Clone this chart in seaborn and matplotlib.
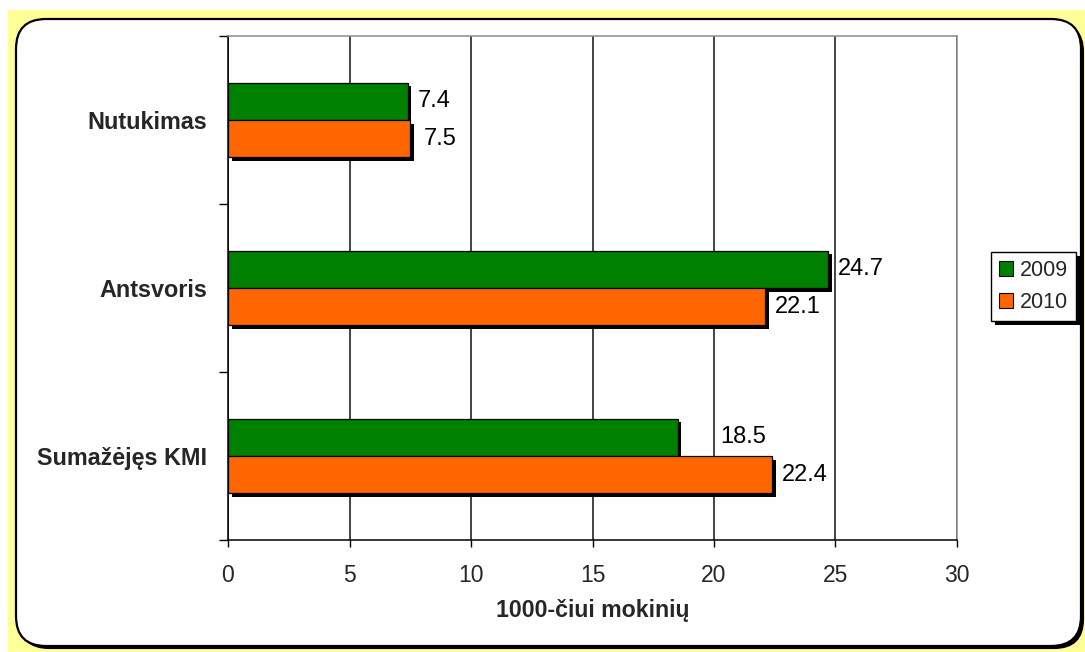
import matplotlib
matplotlib.use("Agg")
import matplotlib.pyplot as plt
import matplotlib.patheffects as pe
import numpy as np
import pandas as pd
import seaborn as sns
from matplotlib.patches import FancyBboxPatch, Rectangle, Patch
from matplotlib.transforms import IdentityTransform

# ---- data ----
categories = ["Nutukimas", "Antsvoris", "Sumažėjęs KMI"]
years = ["2009", "2010"]
values_2009 = [7.4, 24.7, 18.5]
values_2010 = [7.5, 22.1, 22.4]
x_ticks = [0, 5, 10, 15, 20, 25, 30]
x_label = "1000-čiui mokinių"

colors = ["#008000", "#FF6600"]

df = pd.DataFrame({
    "category": categories * 2,
    "year": [years[0]] * len(categories) + [years[1]] * len(categories),
    "value": values_2009 + values_2010,
})

sns.set_theme(style="white")
plt.rcParams["font.family"] = ["Liberation Sans", "DejaVu Sans"]

W, H = 1085, 652
fig = plt.figure(figsize=(W / 100, H / 100), dpi=100)
fig.patch.set_facecolor("white")

# page background and rounded frame (pixel coordinates)
px = IdentityTransform()
fig.add_artist(Rectangle((8, 0), W - 8, H - 10, transform=px,
                         facecolor="#FFFF99", edgecolor="none", zorder=-3))
frame = FancyBboxPatch((16, 6), 1065, 627,
                       boxstyle="round,pad=0,rounding_size=30",
                       transform=px, facecolor="white", edgecolor="black",
                       linewidth=1.6, zorder=-2)
frame.set_path_effects([
    pe.SimplePatchShadow(offset=(2.2, -2.2), shadow_rgbFace="black", alpha=1.0),
    pe.Normal(),
])
fig.add_artist(frame)

ax = fig.add_axes([228 / W, 1 - 540 / H, (957 - 228) / W, 504 / H])
ax.set_facecolor("white")

sns.barplot(data=df, y="category", x="value", hue="year", orient="h",
            order=categories, hue_order=years, palette=colors,
            saturation=1, width=0.446, gap=0, edgecolor="black",
            linewidth=0.9, legend=False, ax=ax)

# drop shadows under each bar
for bar in ax.patches:
    bar.set_path_effects([
        pe.SimplePatchShadow(offset=(2.6, -2.8), shadow_rgbFace="black", alpha=1.0),
        pe.Normal(),
    ])

# value labels to the right of each bar
label_pad = 7
extra_pad = {("Sumažėjęs KMI", "2009"): 24, ("Nutukimas", "2010"): 3}
for year, container, vals in zip(years, ax.containers, [values_2009, values_2010]):
    for cat, bar, v in zip(categories, container, vals):
        y = bar.get_y() + bar.get_height() / 2
        ax.annotate(f"{v:.1f}", xy=(v, y),
                    xytext=(label_pad + extra_pad.get((cat, year), 0), 0),
                    textcoords="offset points", ha="left", va="center",
                    fontsize=17, color="black", annotation_clip=False)

ax.set_xlim(0, 30)
ax.set_ylim(2.5, -0.5)
ax.set_xticks(x_ticks)
ax.set_xticklabels([str(t) for t in x_ticks], fontsize=16.5)
ax.set_yticks([-0.5, 0.5, 1.5, 2.5], labels=["", "", "", ""])
ax.set_yticks(range(len(categories)), labels=categories, minor=True)
ax.set_ylabel("")
ax.set_xlabel(x_label, fontsize=16.7, fontweight="bold")
ax.xaxis.set_label_coords(0.5, -0.117)

for lab in ax.get_yticklabels(minor=True):
    lab.set_fontweight("bold")
    lab.set_fontsize(16.8)

ax.tick_params(axis="x", which="major", direction="out", length=5,
               width=1, color="black", pad=12, bottom=True)
ax.tick_params(axis="y", which="major", direction="out", length=6.5,
               width=1, color="black", left=True)
ax.tick_params(axis="y", which="minor", length=0, pad=15, left=True)

ax.grid(axis="x", color="#111111", linewidth=1.1)
ax.grid(axis="y", visible=False)
ax.set_axisbelow(True)

for side in ("left", "bottom"):
    ax.spines[side].set_color("black")
    ax.spines[side].set_linewidth(1.1)
for side in ("top", "right"):
    ax.spines[side].set_visible(True)
    ax.spines[side].set_color("#8c8c8c")
    ax.spines[side].set_linewidth(1.1)

# legend at the right edge
handles = [Patch(facecolor=c, edgecolor="black", linewidth=0.8) for c in colors]
leg = fig.legend(handles, years, loc="upper left",
                 bbox_to_anchor=(991 / W, 1 - 252 / H),
                 bbox_transform=fig.transFigure, fontsize=15.5,
                 frameon=True, fancybox=False, shadow=False,
                 handlelength=0.65, handleheight=0.65, handletextpad=0.3,
                 labelspacing=0.5, borderpad=0.38, borderaxespad=0)
frame_l = leg.get_frame()
frame_l.set_edgecolor("black")
frame_l.set_linewidth(1.0)
frame_l.set_facecolor("white")
frame_l.set_alpha(1)
frame_l.set_path_effects([
    pe.SimplePatchShadow(offset=(2.8, -2.8), shadow_rgbFace="black", alpha=1.0),
    pe.Normal(),
])

fig.savefig("out.png", dpi=100, facecolor=fig.get_facecolor())
